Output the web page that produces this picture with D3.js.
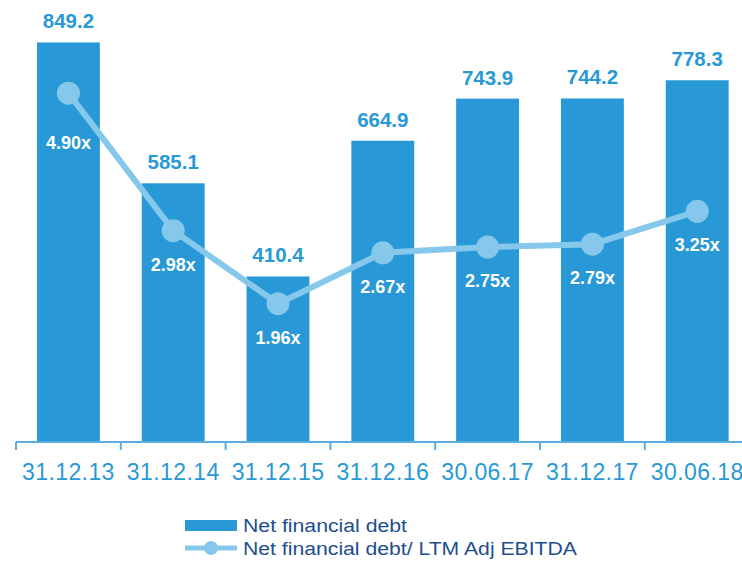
<!DOCTYPE html>
<html>
<head>
<meta charset="utf-8">
<script src="https://cdn.jsdelivr.net/npm/d3@7"></script>
<style>
  body { margin: 0; background: #fff; }
  svg { font-family: 'Liberation Sans', Arial, sans-serif; display: block; }
</style>
</head>
<body>
<div id="chart"></div>
<script>
// chart data
const periods = ['31.12.13', '31.12.14', '31.12.15', '31.12.16', '30.06.17', '31.12.17', '30.06.18']
const netDebt = [849.2, 585.1, 410.4, 664.9, 743.9, 744.2, 778.3]
const leverage = [4.90, 2.98, 1.96, 2.67, 2.75, 2.79, 3.25]

const width = 742
const height = 561
const barColor = '#2899d6'
const lineColor = '#86c8ec'
const legendText = '#1d4f8c'

const svg = d3.select('#chart').append('svg')
  .attr('width', width)
  .attr('height', height)

const baseY = 442

const x = d3.scaleBand()
  .domain(periods)
  .range([16, 16 + 104.8 * periods.length])
  .paddingInner(0.4)
  .paddingOuter(0.2)

// left (bar) scale doesn't start at zero
const y = d3.scaleLinear().domain([100, 900]).range([baseY, baseY - 800 * 0.5333])
// right (ratio) scale
const y2 = d3.scaleLinear().domain([0, 6]).range([baseY + 2, baseY + 2 - 6 * 71.6])

// bars
svg.append('g').selectAll('rect')
  .data(netDebt)
  .join('rect')
  .attr('x', (d, i) => x(periods[i]))
  .attr('y', d => y(d))
  .attr('width', x.bandwidth())
  .attr('height', d => baseY - y(d))
  .attr('fill', barColor)

// bar value labels
svg.append('g').selectAll('text')
  .data(netDebt)
  .join('text')
  .attr('x', (d, i) => x(periods[i]) + x.bandwidth() / 2)
  .attr('y', d => y(d) - 14)
  .attr('text-anchor', 'middle')
  .attr('font-size', 20.5)
  .attr('font-weight', 'bold')
  .attr('fill', barColor)
  .text(d => d.toFixed(1))

// x axis
const axis = svg.append('g')
  .attr('transform', 'translate(0,' + baseY + ')')
  .call(d3.axisBottom(x).tickSize(0).tickPadding(0).tickSizeOuter(0))
axis.select('.domain').remove()
axis.append('line')
  .attr('x1', 16).attr('x2', width)
  .attr('stroke', '#5aaee0').attr('stroke-width', 2)
axis.selectAll('.tickmark')
  .data(d3.range(periods.length))
  .join('line')
  .attr('x1', i => 16 + 104.8 * i)
  .attr('x2', i => 16 + 104.8 * i)
  .attr('y1', 0).attr('y2', 8)
  .attr('stroke', '#5aaee0').attr('stroke-width', 2)
axis.selectAll('.tick text')
  .attr('y', 38)
  .attr('dy', 0)
  .attr('font-size', 23)
  .attr('letter-spacing', 0.4)
  .attr('font-family', "'Liberation Sans', Arial, sans-serif")
  .attr('fill', barColor)

// leverage line
const line = d3.line()
  .x((d, i) => x(periods[i]) + x.bandwidth() / 2)
  .y(d => y2(d))

svg.append('path')
  .datum(leverage)
  .attr('d', line)
  .attr('fill', 'none')
  .attr('stroke', lineColor)
  .attr('stroke-width', 6)

svg.append('g').selectAll('circle')
  .data(leverage)
  .join('circle')
  .attr('cx', (d, i) => x(periods[i]) + x.bandwidth() / 2)
  .attr('cy', d => y2(d))
  .attr('r', 11.5)
  .attr('fill', lineColor)

svg.append('g').selectAll('text')
  .data(leverage)
  .join('text')
  .attr('x', (d, i) => x(periods[i]) + x.bandwidth() / 2)
  .attr('y', (d, i) => y2(d) + (i === 0 ? 56 : 40))
  .attr('text-anchor', 'middle')
  .attr('font-size', 18)
  .attr('font-weight', 'bold')
  .attr('fill', '#fff')
  .text(d => d.toFixed(2) + 'x')

// legend (the source text is a bit stretched horizontally)
const legend = svg.append('g')
legend.append('rect')
  .attr('x', 185).attr('y', 520)
  .attr('width', 52).attr('height', 11)
  .attr('fill', barColor)
legend.append('text')
  .attr('x', 243).attr('y', 532)
  .attr('font-size', 18)
  .attr('fill', legendText)
  .attr('textLength', 164)
  .attr('lengthAdjust', 'spacingAndGlyphs')
  .text('Net financial debt')
legend.append('line')
  .attr('x1', 185).attr('x2', 237)
  .attr('y1', 548).attr('y2', 548)
  .attr('stroke', lineColor).attr('stroke-width', 5)
legend.append('circle')
  .attr('cx', 211).attr('cy', 548).attr('r', 7)
  .attr('fill', lineColor)
legend.append('text')
  .attr('x', 243).attr('y', 555)
  .attr('font-size', 18)
  .attr('fill', legendText)
  .attr('textLength', 334)
  .attr('lengthAdjust', 'spacingAndGlyphs')
  .text('Net financial debt/ LTM Adj EBITDA')
</script>
</body>
</html>
